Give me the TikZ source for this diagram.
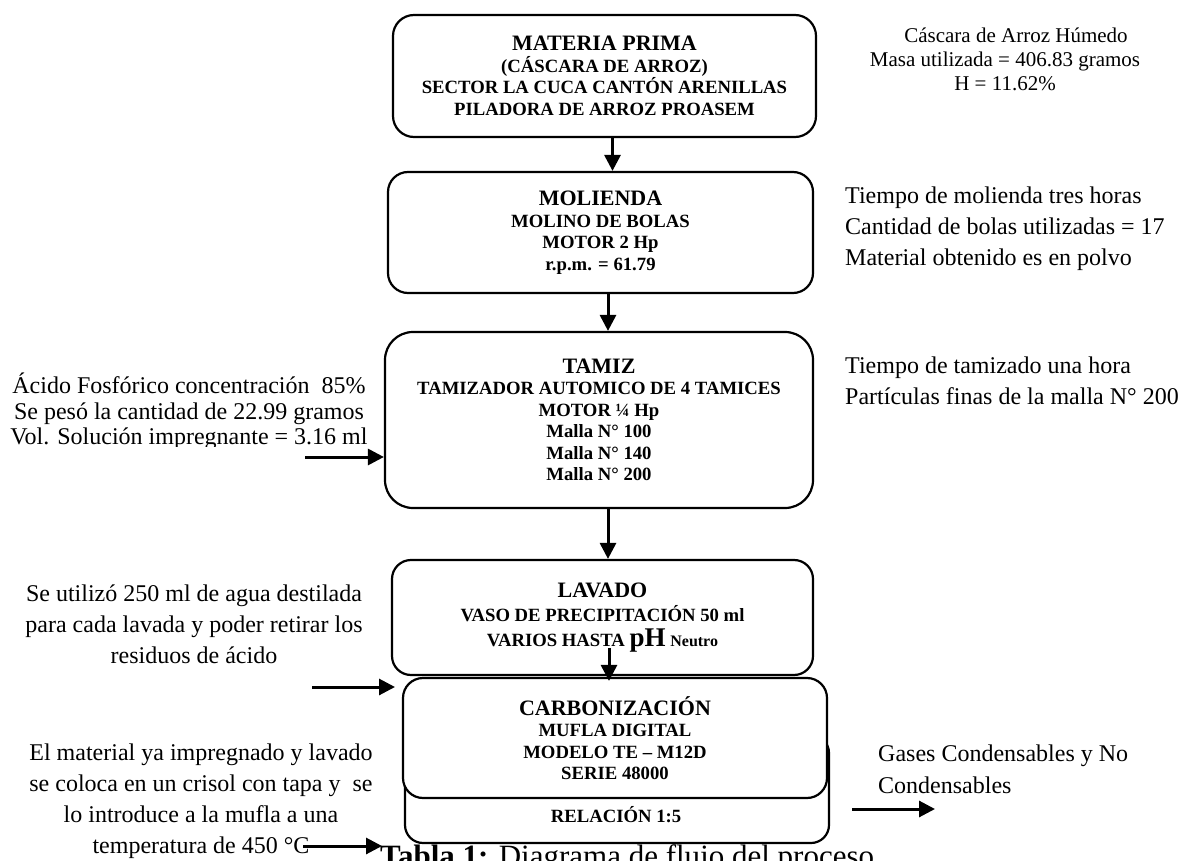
\documentclass[tikz,border=0pt]{standalone}
\usepackage{fontspec}
\setmainfont{Liberation Serif}
\usetikzlibrary{arrows.meta}
\begin{document}
\begin{tikzpicture}[x=1pt,y=-1pt,
  box/.style={draw, line width=2.2pt, align=center, inner sep=0pt, fill=white,
    font=\bfseries\fontsize{18.7}{21.5}\selectfont},
  note/.style={inner sep=0pt, font=\fontsize{24}{31}\selectfont},
  arr/.style={line width=3pt, -{Triangle[length=16pt,width=16pt]}},
]
\useasboundingbox (0,0) rectangle (1181,861);
\newcommand{\bigt}[1]{{\fontsize{22}{21.5}\selectfont #1}}

% boxes
\node[box, minimum width=423pt, minimum height=122pt, rounded corners=21pt] (mp) at (604.5,76)
  {\bigt{MATERIA PRIMA}\\(CÁSCARA DE ARROZ)\\SECTOR LA CUCA CANTÓN ARENILLAS\\PILADORA DE ARROZ PROASEM};
\node[box, minimum width=425pt, minimum height=121pt, rounded corners=20pt] (mol) at (600.5,232.5)
  {\bigt{MOLIENDA}\\MOLINO DE BOLAS\\MOTOR 2 Hp\\r.p.m. = 61.79};
\node[box, minimum width=428pt, minimum height=176pt, rounded corners=28pt] (tam) at (599,420)
  {\bigt{TAMIZ}\\TAMIZADOR AUTOMICO DE 4 TAMICES\\MOTOR ¼ Hp\\Malla N° 100\\Malla N° 140\\Malla N° 200};
\node[box, minimum width=421pt, minimum height=115pt, rounded corners=19pt, font=\bfseries\fontsize{18.7}{24.5}\selectfont] (lav) at (602.5,617.5)
  {\bigt{LAVADO}\\VASO DE PRECIPITACIÓN 50 ml\\VARIOS HASTA {\fontsize{27}{27}\selectfont pH} {\fontsize{16}{16}\selectfont Neutro}};
\node[box, minimum width=424pt, minimum height=108pt, rounded corners=18pt] (back) at (617,789) {};
\node[box, anchor=center, draw=none, fill=none] (rel) at (616,815) {RELACIÓN 1:5};
\node[box, minimum width=424pt, minimum height=120pt, rounded corners=20pt] (carb) at (615,738)
  {\bigt{CARBONIZACIÓN}\\MUFLA DIGITAL\\MODELO TE – M12D\\SERIE 48000};

% notes
\node[inner sep=0pt, align=center, font=\fontsize{21}{24}\selectfont] (cas) at (1005,59)
  {\hspace*{22pt}Cáscara de Arroz Húmedo\\Masa utilizada = 406.83 gramos\\H = 11.62\%};
\node[note, align=left, anchor=west] (tmol) at (845,228.5)
  {Tiempo de molienda tres horas\\Cantidad de bolas utilizadas = 17\\Material obtenido es en polvo};
\node[note, align=left, anchor=west] (ttam) at (845,380.5)
  {Tiempo de tamizado una hora\\Partículas finas de la malla N° 200};
\begin{scope}
\clip (0,360) rectangle (384,446);
\node[note, align=center, font=\fontsize{24}{25.5}\selectfont] (acido) at (189,411.5)
  {Ácido Fosfórico concentración~~85\%\\Se pesó la cantidad de 22.99 gramos\\Vol. Solución impregnante = 3.16 ml};
\end{scope}
\node[note, align=center] (agua) at (194,624)
  {Se utilizó 250 ml de agua destilada\\para cada lavada y poder retirar los\\residuos de ácido};
\node[note, align=center] (mat) at (201,801.5)
  {El material ya impregnado y lavado\\se coloca en un crisol con tapa y~~se\\lo introduce a la mufla a una\\temperatura de 450 °C};
\node[note, align=left, anchor=west, font=\fontsize{24}{32}\selectfont] (gas) at (878,769)
  {Gases Condensables y No\\Condensables};
\node[anchor=base west, inner sep=0pt, font=\fontsize{31}{34}\selectfont] (cap) at (380,866)
  {\textbf{Tabla 1:} Diagrama de flujo del proceso};

% connectors
\draw[arr] ([xshift=8pt]mp.south) -- ([xshift=8pt]mp.south |- mol.north);
\draw[arr] ([xshift=7.5pt]mol.south) -- ([xshift=7.5pt]mol.south |- tam.north);
\draw[arr] ([xshift=9pt]tam.south) -- ([xshift=9pt]tam.south |- lav.north);
\coordinate (l1) at (609,648);
\draw[arr, shorten >=-4pt] (l1) -- (l1 |- carb.north);
\coordinate (a1) at (305,457);
\draw[arr] (a1) -- (a1 -| tam.west);
\coordinate (a2) at (312,687);
\coordinate (a2e) at (395,687);
\draw[arr] (a2) -- (a2e);
\coordinate (a3) at (303,846);
\coordinate (a3e) at (382,846);
\draw[arr] (a3) -- (a3e);
\coordinate (g1) at (852,809);
\coordinate (g2) at (935,809);
\draw[arr] (g1) -- (g2);
\end{tikzpicture}
\end{document}
